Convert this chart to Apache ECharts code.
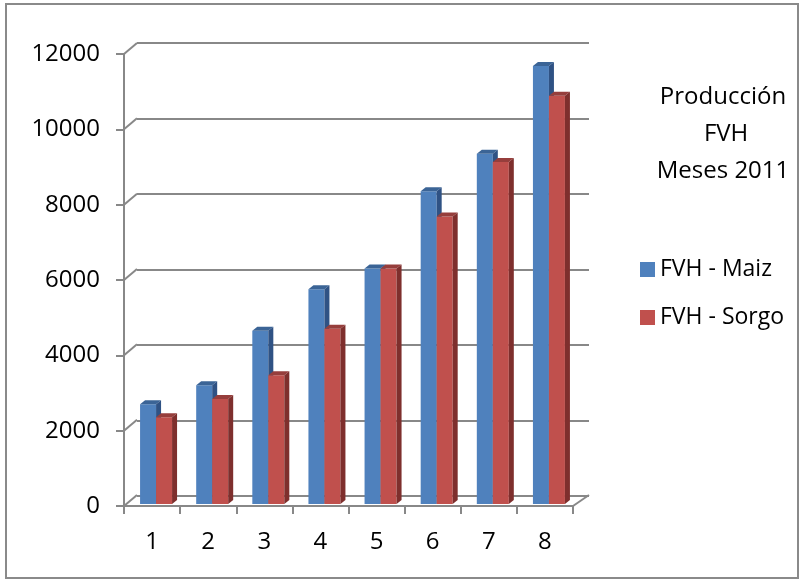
<!DOCTYPE html>
<html>
<head>
<meta charset="utf-8">
<script src="https://cdn.jsdelivr.net/npm/echarts@6/dist/echarts.min.js"></script>
<style>
  html, body { margin: 0; padding: 0; background: #fff; }
  #chart { width: 804px; height: 580px; }
</style>
</head>
<body>
<div id="chart"></div>
<script>
// data
const meses = ['1', '2', '3', '4', '5', '6', '7', '8'];
const maiz = [2650, 3150, 4600, 5700, 6250, 8300, 9300, 11630];
const sorgo = [2300, 2790, 3420, 4650, 6250, 7630, 9080, 10840];
const yTicks = [0, 2000, 4000, 6000, 8000, 10000, 12000];

const FONT = '"Open Sans", "Noto Sans", sans-serif';
const gray = '#888888';

const chart = echarts.init(document.getElementById('chart'));

// 3d-ish column: front face, top, right side
function bar3d(offset, front, top, side) {
  return function (params, api) {
    const i = api.value(0);
    const base = api.coord([i, 0]);
    const pt = api.coord([i, api.value(1)]);
    const w = 16, dx = 5, dy = 4;
    const x0 = base[0] + offset;
    const yb = base[1] - 2, yt = pt[1] - 2;
    return {
      type: 'group',
      children: [
        { type: 'rect', shape: { x: x0, y: yt, width: w, height: yb - yt }, style: { fill: front } },
        { type: 'polygon', shape: { points: [[x0, yt], [x0 + w, yt], [x0 + w + dx, yt - dy], [x0 + dx, yt - dy]] }, style: { fill: top } },
        { type: 'polygon', shape: { points: [[x0 + w, yt], [x0 + w + dx, yt - dy], [x0 + w + dx, yb - dy], [x0 + w, yb]] }, style: { fill: side } }
      ]
    };
  };
}

// diagonal lines joining front axis to back wall
function connectors(params, api) {
  const cs = params.coordSys;
  const y = api.coord([0, api.value(1)])[1];
  const lines = [
    { type: 'line', shape: { x1: cs.x, y1: y, x2: cs.x + 13, y2: y - 11 }, style: { stroke: gray, lineWidth: 2 } }
  ];
  if (api.value(1) === 0) {
    lines.push({ type: 'line', shape: { x1: cs.x + cs.width, y1: y, x2: cs.x + cs.width + 16, y2: y - 11 }, style: { stroke: gray, lineWidth: 2 } });
  }
  return { type: 'group', children: lines };
}

chart.setOption({
  animation: false,
  backgroundColor: '#fff',
  textStyle: { fontFamily: FONT },
  grid: [
    { left: 124, right: 231, top: 54, bottom: 74 },
    { left: 137, right: 215, top: 43, bottom: 84 }
  ],
  xAxis: [
    {
      type: 'category', gridIndex: 0, data: meses,
      axisLine: { lineStyle: { color: gray, width: 2 } },
      axisTick: { show: true, length: 8, interval: 0, lineStyle: { color: gray, width: 2 } },
      axisLabel: { fontSize: 24, color: '#000', margin: 24, fontFamily: FONT }
    },
    { type: 'category', gridIndex: 1, data: meses, show: false }
  ],
  yAxis: [
    {
      type: 'value', gridIndex: 0, min: 0, max: 12000, interval: 2000,
      axisLine: { show: true, lineStyle: { color: gray, width: 2 } },
      axisTick: { show: true, length: 8, lineStyle: { color: gray, width: 2 } },
      splitLine: { show: false },
      axisLabel: { fontSize: 24, color: '#000', margin: 24, fontFamily: FONT, formatter: v => String(v) }
    },
    {
      type: 'value', gridIndex: 1, min: 0, max: 12000, interval: 2000,
      axisLine: { show: false }, axisTick: { show: false }, axisLabel: { show: false },
      splitLine: { show: true, lineStyle: { color: gray, width: 2 } }
    }
  ],
  legend: {
    orient: 'vertical', left: 635, top: 251,
    itemWidth: 15, itemHeight: 15, itemGap: 21,
    icon: 'rect',
    textStyle: { fontSize: 23, color: '#000', fontFamily: FONT, lineHeight: 27 },
    data: ['FVH - Maiz', 'FVH - Sorgo']
  },
  graphic: [
    {
      type: 'rect', silent: true, z: 100,
      shape: { x: 6, y: 4, width: 792, height: 574 },
      style: { fill: 'none', stroke: '#8a8a8a', lineWidth: 2 }
    },
    {
      type: 'text', x: 723, y: 79,
      style: { text: 'Producción\n FVH\nMeses 2011', font: '24px ' + FONT, textAlign: 'center', lineHeight: 37, fill: '#000' }
    }
  ],
  series: [
    {
      type: 'custom', xAxisIndex: 0, yAxisIndex: 0, z: 3,
      data: yTicks.map(v => [0, v]),
      renderItem: connectors, silent: true
    },
    {
      name: 'FVH - Maiz', type: 'custom', xAxisIndex: 0, yAxisIndex: 0, z: 4,
      itemStyle: { color: '#4F81BD' },
      data: maiz.map((v, i) => [i, v]),
      renderItem: bar3d(-12, '#4F81BD', '#3B6496', '#2F5284')
    },
    {
      name: 'FVH - Sorgo', type: 'custom', xAxisIndex: 0, yAxisIndex: 0, z: 5,
      itemStyle: { color: '#C0504D' },
      data: sorgo.map((v, i) => [i, v]),
      renderItem: bar3d(4, '#C0504D', '#963E3C', '#7E2F2D')
    }
  ]
});
</script>
</body>
</html>
